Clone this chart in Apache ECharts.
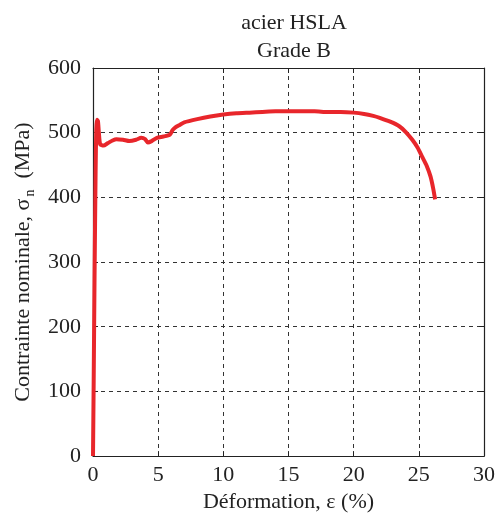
<!DOCTYPE html>
<html><head><meta charset="utf-8">
<script src="https://cdn.jsdelivr.net/npm/echarts@6/dist/echarts.min.js"></script>
<style>html,body{margin:0;padding:0;background:#fff}#c{width:498px;height:518px}</style>
</head><body><div id="c"></div>
<script>
const strain = [0, 0.05, 0.12, 0.2, 0.25, 0.3, 0.38, 0.45, 0.55, 0.8, 1.15, 1.5, 1.8, 2.3, 2.8, 3.3, 3.7, 4.0, 4.2, 4.5, 4.9, 5.4, 5.9, 6.1, 6.3, 6.65, 7, 8, 9, 10, 11, 12, 13, 14, 15, 16, 17, 18, 19, 20, 20.8, 21.5, 22, 22.8, 23.5, 24, 24.5, 24.9, 25.25, 25.6, 25.9, 26.1, 26.25];
const stress = [0, 110, 280, 440, 505, 520, 518, 500, 482, 480, 484, 488, 490, 489, 487, 489, 492, 490, 485, 487, 492, 494, 497, 504, 508, 512, 516, 521, 525, 528, 530, 531, 532, 533, 533, 533, 533, 532, 532, 531, 529, 526, 523, 517, 510, 501, 489, 477, 463, 449, 432, 414, 397];
const titleLines = ['acier HSLA', 'Grade B'];
const xName = 'Déformation, ε (%)';
const yNameMain = 'Contrainte nominale, σ';
const yNameSub = 'n';
const yNameUnit = '  (MPa)';

const font = 'Liberation Serif, Times New Roman, serif';
const fs = 22;
const chart = echarts.init(document.getElementById('c'), null, {renderer: 'canvas'});
const data = strain.map((x, i) => [x, stress[i]]);
const gridLine = {show: true, lineStyle: {color: '#333', type: [4, 4], width: 1}};
const frameLine = {show: true, onZero: false, lineStyle: {color: '#222', width: 1.2}};
const tick = {show: true, inside: true, length: 5, lineStyle: {color: '#222'}};
chart.setOption({
  animation: false,
  backgroundColor: '#fff',
  title: {
    text: titleLines.join('\n'), left: 289, top: 4, textAlign: 'center',
    textStyle: {fontFamily: font, fontSize: fs, fontWeight: 'normal', color: '#222', lineHeight: 28}
  },
  grid: {left: 93, right: 13, top: 68, bottom: 61},
  xAxis: [{
    type: 'value', min: 0, max: 30, interval: 5,
    name: xName, nameLocation: 'middle', nameGap: 31,
    nameTextStyle: {fontFamily: font, fontSize: fs, color: '#222'},
    axisLine: frameLine, axisTick: tick,
    axisLabel: {fontFamily: font, fontSize: fs, color: '#222', margin: 8},
    splitLine: gridLine
  }, {
    type: 'value', min: 0, max: 30, interval: 5, position: 'top',
    axisLine: frameLine, axisTick: tick,
    axisLabel: {show: false}, splitLine: {show: false}
  }],
  yAxis: [{
    type: 'value', min: 0, max: 600, interval: 100,
    name: '{m|' + yNameMain + '}{s|' + yNameSub + '}{m|' + yNameUnit + '}',
    nameLocation: 'middle', nameGap: 52,
    nameTextStyle: {fontFamily: font, fontSize: fs, color: '#222',
      rich: {m: {fontFamily: font, fontSize: fs, color: '#222'},
             s: {fontFamily: font, fontSize: 14, color: '#222', verticalAlign: 'bottom', padding: [14, 0, 0, 2]}}},
    axisLine: frameLine, axisTick: tick,
    axisLabel: {fontFamily: font, fontSize: fs, color: '#222', margin: 12},
    splitLine: gridLine
  }, {
    type: 'value', min: 0, max: 600, interval: 100, position: 'right',
    axisLine: frameLine, axisTick: tick,
    axisLabel: {show: false}, splitLine: {show: false}
  }],
  series: [{
    type: 'line', data: data, showSymbol: false, smooth: 0.2,
    lineStyle: {color: '#e8262b', width: 4}, itemStyle: {color: '#e8262b'}
  }]
});
</script></body></html>
